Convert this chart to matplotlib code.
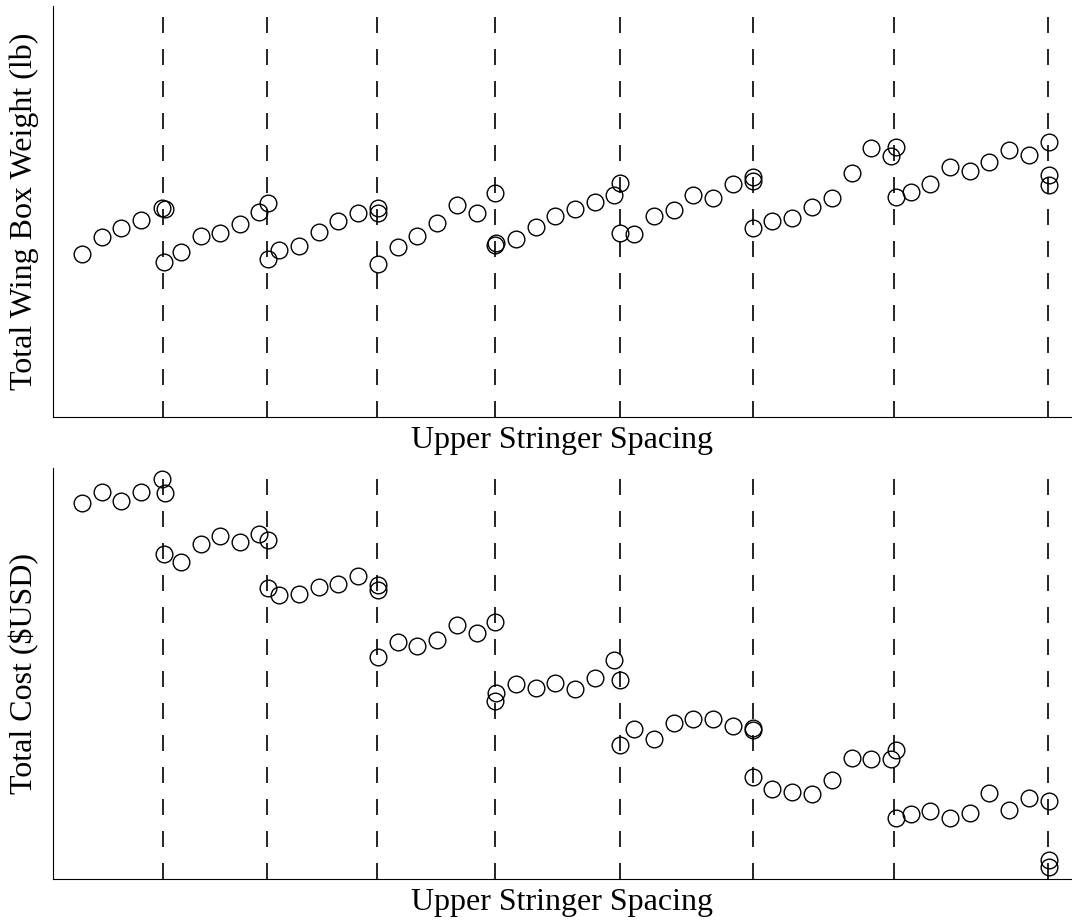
import matplotlib.pyplot as plt

plt.rcParams['font.family'] = ['Liberation Serif', 'DejaVu Serif']

# upper stringer spacing (arbitrary units)
spacing = [28.7, 48.7, 68, 87.7, 108.7, 112,
           111.3, 127.7, 147.7, 167, 187, 206.3, 214.7,
           214.7, 226.3, 245.7, 265.7, 285.3, 305.3, 325.3, 325.3,
           325.3, 344.7, 364.3, 384, 404, 423.7, 442,
           443, 442, 462.7, 482.7, 502.3, 522, 542, 561.3, 566.7,
           566.7, 581.3, 601, 620.7, 640.3, 660.3, 680.3, 700.3, 700.3,
           700.3, 719.3, 739, 759, 778.7, 798.7, 818, 837.7, 842.7,
           842.7, 857.7, 877.3, 897, 917, 936.3, 956.3, 976, 996, 996, 996]

weight = [162.7, 180, 188.4, 196.7, 209, 207.4,
          155, 164.4, 180.7, 184, 192.4, 204.4, 213.7,
          157.7, 166.4, 170.4, 184.4, 195.4, 203.4, 209, 204,
          152.7, 170, 180.7, 193.4, 212, 203.4, 223.4,
          174, 171.4, 178, 190, 200.7, 208, 215, 222, 233.7,
          183.4, 183, 201, 207, 221.4, 219, 232.4, 240, 235.7,
          189, 196, 198.4, 209.4, 218.4, 244, 268.4, 261, 270,
          219.4, 224.7, 233, 249.4, 246, 255, 267, 261.4, 275, 241.7, 231.7]

cost = [375.7, 386.7, 378.3, 386.7, 400, 385.7,
        324.7, 316.7, 334.7, 343.3, 336.7, 345, 339,
        290.7, 284, 284.7, 291.7, 295, 303, 294, 289,
        222.3, 236.7, 233, 239, 253.7, 245.7, 257.3,
        186.3, 178, 195, 191.3, 195.7, 189.7, 201.3, 218.7, 199,
        133.7, 150.3, 139.7, 156.3, 160, 159.7, 153, 150.7, 149,
        101.7, 90, 86.7, 85.3, 99, 120.7, 119.7, 119.7, 129,
        60.7, 65.3, 68, 60.7, 66.3, 85.7, 69, 81.3, 77.7, 19, 12.3]

# group boundaries (dashed lines)
boundaries = [110, 214, 324, 442, 567, 700, 841, 995]

fig = plt.figure(figsize=(10.72, 9.23), dpi=100)
ax1 = fig.add_axes([0.0494, 0.5485, 0.9506, 0.445])
ax2 = fig.add_axes([0.0494, 0.0477, 0.9506, 0.4453])

for ax, vals, ylab, ytop in [(ax1, weight, "Total Wing Box Weight (lb)", 410.7),
                             (ax2, cost, "Total Cost (\\$USD)", 411)]:
    for b in boundaries:
        ax.axvline(b, color='black', lw=1.2, linestyle=(0, (9.6, 9.6)))
    ax.plot(spacing, vals, 'o', mfc='none', mec='black', ms=12, mew=1)
    ax.set_xlim(0, 1019)
    ax.set_ylim(0, ytop)
    ax.set_xticks([])
    ax.set_yticks([])
    ax.spines['top'].set_visible(False)
    ax.spines['right'].set_visible(False)
    ax.set_xlabel("Upper Stringer Spacing", fontsize=23)
    ax.set_ylabel(ylab, fontsize=23)
    ax.xaxis.set_label_coords(0.5, -0.022)
    ax.yaxis.set_label_coords(-0.0137, 0.5)

plt.savefig("out.png", dpi=100)
